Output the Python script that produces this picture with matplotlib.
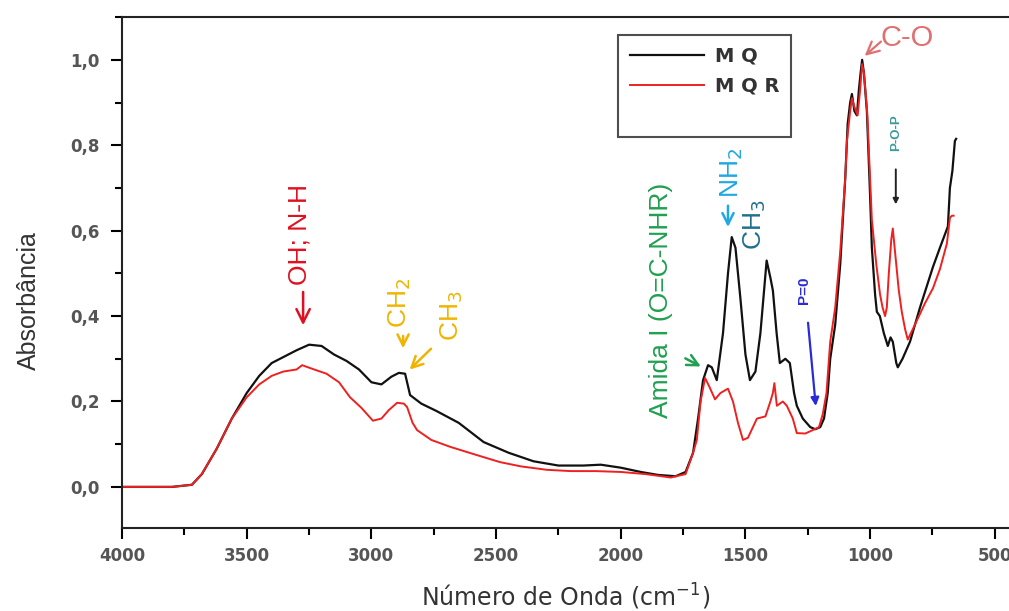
import matplotlib
matplotlib.use('Agg')
import matplotlib.pyplot as plt
from matplotlib.ticker import MultipleLocator, FuncFormatter
from matplotlib.lines import Line2D

# --- data (wavenumber cm-1, absorbance) ---
wn_mq = [4000, 3800, 3720, 3680, 3620, 3560, 3500, 3450, 3400, 3350,
         3300, 3250, 3200, 3150, 3100, 3050, 3000, 2960, 2920, 2890,
         2865, 2845, 2800, 2740, 2650, 2550, 2450, 2350, 2250, 2150,
         2080, 2000, 1920, 1850, 1780, 1740, 1710, 1690, 1670, 1650,
         1635, 1615, 1590, 1570, 1555, 1540, 1520, 1500, 1482, 1460,
         1440, 1415, 1400, 1390, 1375, 1362, 1340, 1322, 1305, 1294,
         1270, 1240, 1220, 1200, 1185, 1170, 1160, 1140, 1120, 1100,
         1090, 1080, 1073, 1063, 1053, 1045, 1038, 1032, 1025, 1013,
         1000, 993, 980, 973, 961, 945, 929, 918, 909, 895,
         889, 870, 840, 800, 748, 720, 688, 680, 670, 660,
         655]
abs_mq = [0.0, 0.0, 0.005, 0.03, 0.09, 0.16, 0.22, 0.26, 0.29, 0.305,
          0.32, 0.333, 0.33, 0.31, 0.295, 0.275, 0.245, 0.24, 0.258, 0.267,
          0.265, 0.215, 0.195, 0.178, 0.15, 0.105, 0.08, 0.06, 0.05, 0.05,
          0.052, 0.045, 0.035, 0.028, 0.025, 0.035, 0.08, 0.16, 0.25, 0.285,
          0.28, 0.25, 0.36, 0.5, 0.585, 0.56, 0.44, 0.31, 0.25, 0.27,
          0.36, 0.53, 0.49, 0.46, 0.36, 0.29, 0.3, 0.29, 0.22, 0.19,
          0.16, 0.14, 0.135, 0.14, 0.16, 0.22, 0.3, 0.38, 0.52, 0.72,
          0.85, 0.9, 0.92, 0.88, 0.87, 0.93, 0.97, 1.0, 0.97, 0.88,
          0.68, 0.56, 0.45, 0.41, 0.40, 0.36, 0.33, 0.35, 0.34, 0.29,
          0.28, 0.30, 0.34, 0.42, 0.515, 0.56, 0.61, 0.70, 0.74, 0.81,
          0.815]

wn_mqr = [4000, 3800, 3720, 3680, 3620, 3560, 3500, 3450, 3400, 3354,
          3300, 3278, 3230, 3180, 3130, 3086, 3040, 2994, 2960, 2930,
          2897, 2870, 2857, 2835, 2817, 2760, 2685, 2580, 2484, 2400,
          2296, 2200, 2100, 2000, 1900, 1800, 1740, 1710, 1695, 1680,
          1662, 1645, 1622, 1600, 1570, 1550, 1530, 1510, 1490, 1470,
          1454, 1420, 1400, 1390, 1384, 1374, 1350, 1334, 1310, 1294,
          1260, 1230, 1205, 1190, 1175, 1160, 1140, 1120, 1100, 1093,
          1080, 1073, 1063, 1050, 1040, 1032, 1025, 1012, 1000, 993,
          975, 960, 950, 940, 933, 925, 915, 909, 900, 885,
          873, 860, 849, 820, 780, 748, 720, 692, 680, 672,
          665]
abs_mqr = [0.0, 0.0, 0.005, 0.03, 0.09, 0.16, 0.21, 0.24, 0.26, 0.27,
           0.275, 0.285, 0.275, 0.265, 0.245, 0.21, 0.185, 0.155, 0.16, 0.18,
           0.197, 0.195, 0.187, 0.15, 0.133, 0.11, 0.094, 0.075, 0.058, 0.048,
           0.04, 0.037, 0.037, 0.035, 0.03, 0.022, 0.03, 0.08, 0.11, 0.2,
           0.255, 0.235, 0.205, 0.22, 0.23, 0.2, 0.15, 0.11, 0.115, 0.14,
           0.16, 0.165, 0.2, 0.22, 0.243, 0.19, 0.2, 0.19, 0.16, 0.126,
           0.125, 0.133, 0.14, 0.17, 0.22, 0.34, 0.42, 0.55, 0.72, 0.81,
           0.88, 0.91, 0.89, 0.87, 0.93, 0.99, 0.97, 0.88, 0.72, 0.625,
           0.52, 0.45, 0.42, 0.40, 0.42, 0.50, 0.58, 0.605, 0.55, 0.46,
           0.41, 0.37, 0.345, 0.38, 0.43, 0.465, 0.51, 0.57, 0.63, 0.635,
           0.635]

series_labels = ['M Q', 'M Q R']

fig = plt.figure(figsize=(10.09, 6.11), dpi=100)
ax = fig.add_axes([0.121, 0.136, 0.879, 0.836])

ax.plot(wn_mq, abs_mq, color='#111111', lw=1.6)
ax.plot(wn_mqr, abs_mqr, color='#ee2020', lw=1.4)

ax.set_xlim(4000, 443)
ax.set_ylim(-0.096, 1.10)

ax.xaxis.set_major_locator(MultipleLocator(500))
ax.xaxis.set_minor_locator(MultipleLocator(250))
ax.yaxis.set_major_locator(MultipleLocator(0.2))
ax.yaxis.set_minor_locator(MultipleLocator(0.1))
ax.yaxis.set_major_formatter(FuncFormatter(lambda v, p: f'{v:.1f}'.replace('.', ',')))
ax.tick_params(which='major', direction='out', length=8, width=1.5, labelsize=12,
               labelcolor='#555555')
ax.tick_params(axis='y', which='major', pad=8)
ax.tick_params(axis='x', which='major', pad=6)
ax.tick_params(which='minor', direction='out', length=5, width=1.5)
for lab in ax.get_xticklabels() + ax.get_yticklabels():
    lab.set_fontweight('bold')

for s in ['left', 'bottom', 'top']:
    ax.spines[s].set_linewidth(1.5)
    ax.spines[s].set_color('#222222')
ax.spines['right'].set_visible(False)

ax.set_xlabel('Número de Onda (cm$^{-1}$)', fontsize=17, color='#333333', labelpad=12)
ax.set_ylabel('Absorbância', fontsize=18, color='#333333', family='Liberation Sans')
ax.yaxis.set_label_coords(-0.092, 0.446)

# legend with an empty row at the bottom, like the original
handles = [Line2D([], [], color='#111111', lw=1.6),
           Line2D([], [], color='#ee2020', lw=1.4),
           Line2D([], [], color='none')]
leg = ax.legend(handles, series_labels + [' '], loc='upper left',
                bbox_to_anchor=(618 / 1009, 1 - 35 / 611), bbox_transform=fig.transFigure,
                fancybox=False, frameon=True, edgecolor='#222222',
                prop={'size': 14, 'weight': 'bold'}, labelcolor='#333333',
                handlelength=3.8, borderpad=0.6, labelspacing=0.55,
                handletextpad=0.6, borderaxespad=0)
leg.get_frame().set_linewidth(1.5)
leg.set_zorder(5)

# band assignments
fs = 19
ax.annotate('', xy=(3274, 0.372), xytext=(3274, 0.463),
            arrowprops=dict(arrowstyle='->', color='#e01020', lw=1.8, mutation_scale=24))
ax.text(3290, 0.59, 'OH; N-H', color='#e01020', rotation=90, fontsize=fs,
        ha='center', va='center', family='Liberation Sans')

ax.annotate('', xy=(2873, 0.318), xytext=(2873, 0.36),
            arrowprops=dict(arrowstyle='->', color='#f0b400', lw=1.8, mutation_scale=20))
ax.text(2885, 0.43, 'CH$_2$', color='#f0b400', rotation=90, fontsize=fs,
        ha='center', va='center', family='Liberation Sans')
ax.annotate('', xy=(2855, 0.27), xytext=(2753, 0.328),
            arrowprops=dict(arrowstyle='->', color='#f0b400', lw=1.8, mutation_scale=20))
ax.text(2677, 0.40, 'CH$_3$', color='#f0b400', rotation=90, fontsize=fs,
        ha='center', va='center', family='Liberation Sans')

ax.annotate('', xy=(1669, 0.279), xytext=(1751, 0.304),
            arrowprops=dict(arrowstyle='->', color='#20a050', lw=1.8, mutation_scale=20))
ax.text(1839, 0.436, 'Amida I (O=C-NHR)', color='#20a050', rotation=90, fontsize=fs,
        ha='center', va='center', family='Liberation Sans')

ax.annotate('', xy=(1570, 0.602), xytext=(1570, 0.665),
            arrowprops=dict(arrowstyle='->', color='#20a8e0', lw=1.8, mutation_scale=20))
ax.text(1554, 0.735, 'NH$_2$', color='#20a8e0', rotation=90, fontsize=fs,
        ha='center', va='center', family='Liberation Sans')
ax.text(1462, 0.614, 'CH$_3$', color='#1f6f8c', rotation=90, fontsize=fs,
        ha='center', va='center', family='Liberation Sans')

ax.annotate('', xy=(1217, 0.183), xytext=(1250, 0.391),
            arrowprops=dict(arrowstyle='-|>', color='#2a2ad8', lw=1.6, mutation_scale=12))
ax.text(1266, 0.46, 'P=0', color='#2a2ad8', rotation=90, fontsize=11, fontweight='bold',
        ha='center', va='center', family='Liberation Sans')

ax.annotate('', xy=(1030, 1.005), xytext=(948, 1.047),
            arrowprops=dict(arrowstyle='->', color='#e07070', lw=1.6, mutation_scale=22))
ax.text(850, 1.052, 'C-O', color='#e07070', fontsize=21,
        ha='center', va='center', family='Liberation Sans')

ax.annotate('', xy=(897, 0.655), xytext=(897, 0.75),
            arrowprops=dict(arrowstyle='-|>', color='#222222', lw=1.4, mutation_scale=8))
ax.text(897, 0.83, 'P-O-P', color='#3a9a9a', rotation=90, fontsize=9.5, fontweight='bold',
        ha='center', va='center', family='Liberation Sans')

fig.savefig('out.png', dpi=100)
